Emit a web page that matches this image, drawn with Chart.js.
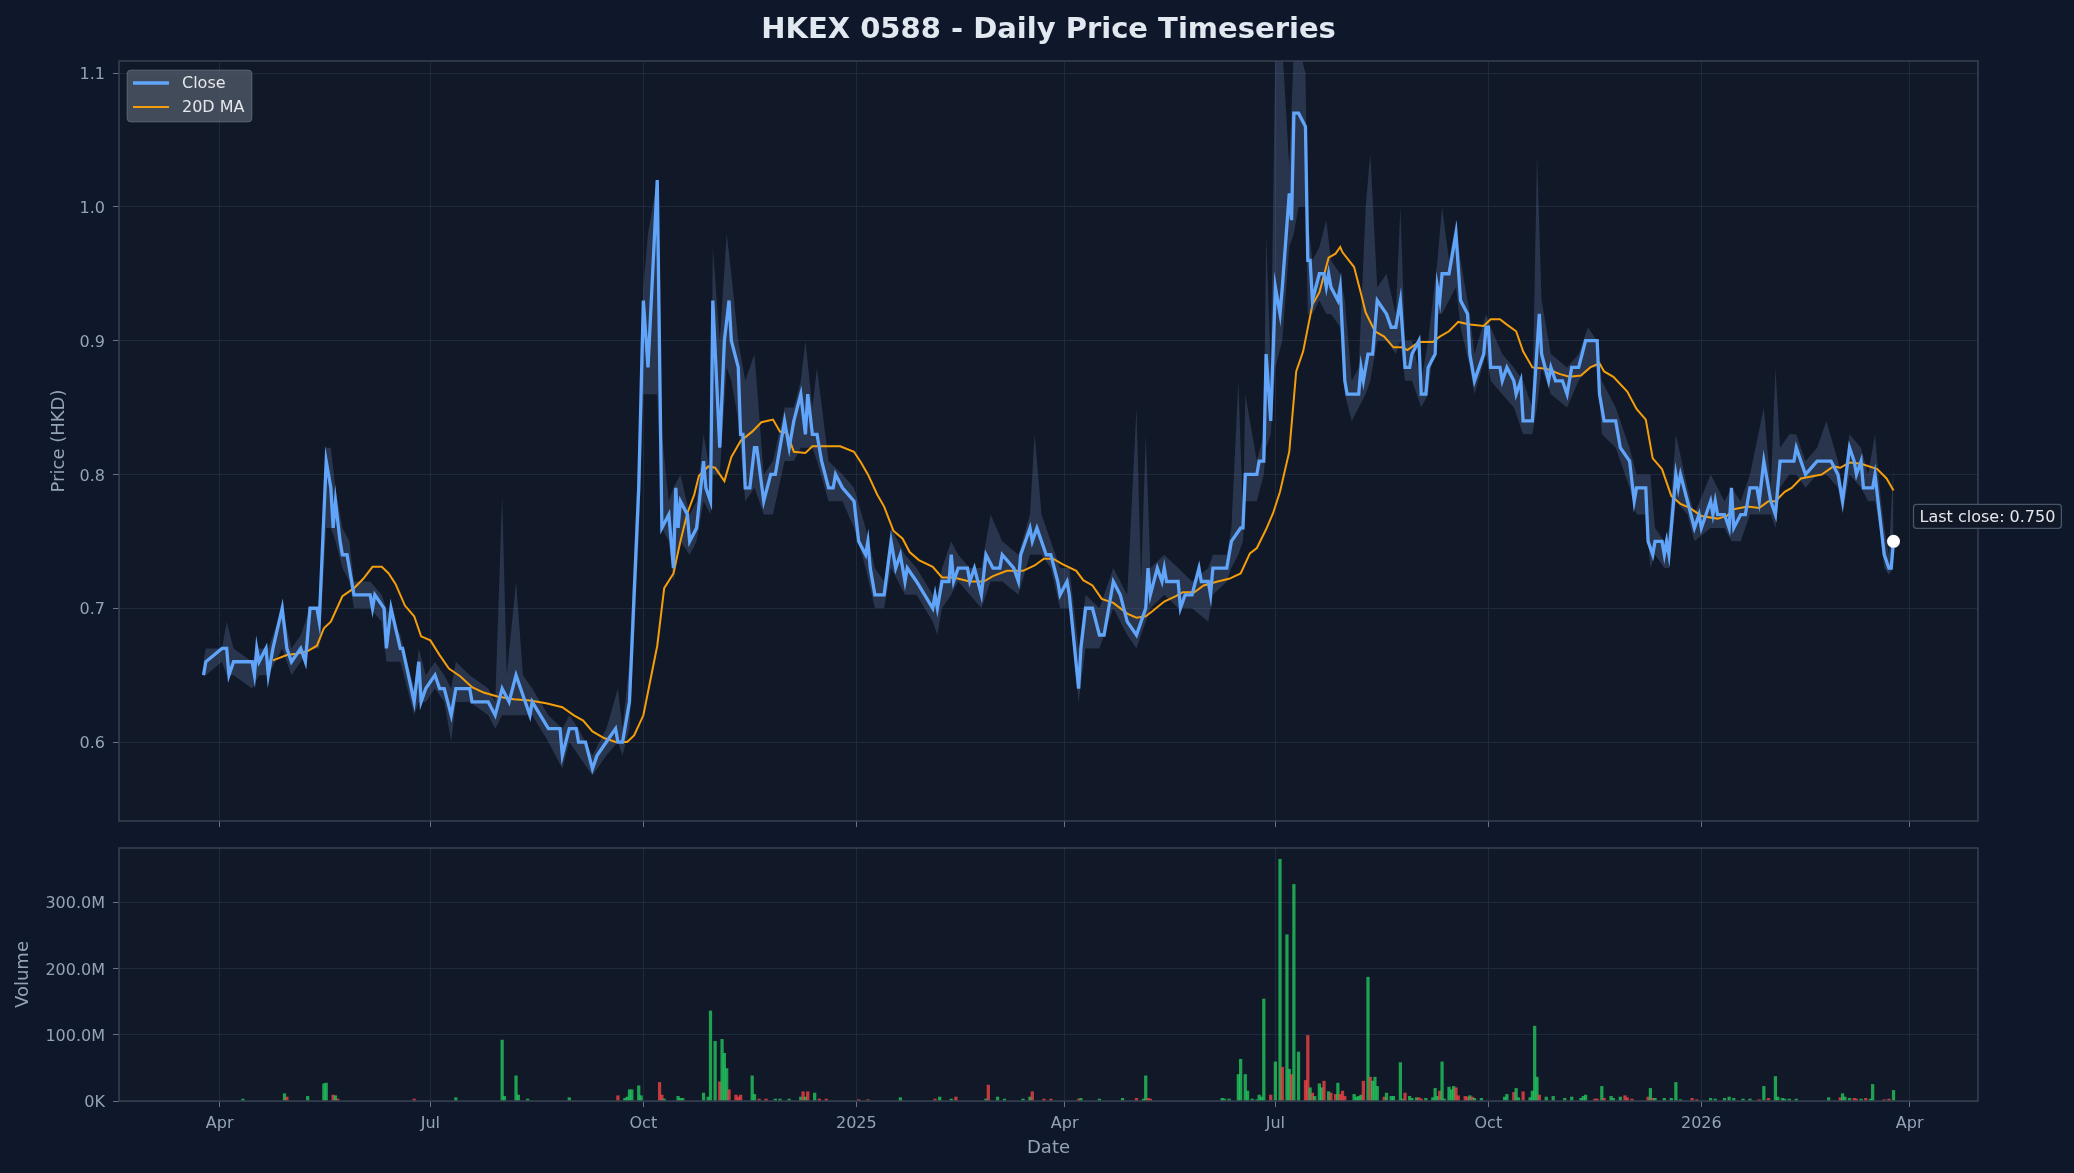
<!DOCTYPE html>
<html>
<head>
<meta charset="utf-8">
<title>HKEX 0588 - Daily Price Timeseries</title>
<script src="https://cdn.jsdelivr.net/npm/chart.js@4.4.1/dist/chart.umd.min.js"></script>
<style>
  html, body { margin: 0; padding: 0; background: #0f172a; }
  #wrap { position: relative; width: 2074px; height: 1173px; overflow: hidden; }
  canvas { position: absolute; left: 0; }
  #priceChart { top: 0; }
  #volumeChart { top: 835px; }
</style>
</head>
<body>
<div id="wrap">
  <canvas id="priceChart" width="2074" height="840"></canvas>
  <canvas id="volumeChart" width="2074" height="338"></canvas>
</div>
<script>
const chartTitle = 'HKEX 0588 - Daily Price Timeseries';

// Closing price (HKD)
const closeDates = [
  '2024-03-25','2024-03-26','2024-04-02','2024-04-04','2024-04-05','2024-04-07','2024-04-15','2024-04-16','2024-04-17','2024-04-18',
  '2024-04-21','2024-04-22','2024-04-24','2024-04-28','2024-04-30','2024-05-02','2024-05-06','2024-05-08','2024-05-10','2024-05-13',
  '2024-05-14','2024-05-17','2024-05-19','2024-05-20','2024-05-21','2024-05-23','2024-05-24','2024-05-26','2024-05-28','2024-05-29',
  '2024-06-05','2024-06-06','2024-06-07','2024-06-11','2024-06-12','2024-06-14','2024-06-18','2024-06-19','2024-06-24','2024-06-26',
  '2024-06-27','2024-06-29','2024-07-03','2024-07-05','2024-07-07','2024-07-10','2024-07-12','2024-07-18','2024-07-19','2024-07-26',
  '2024-07-29','2024-08-01','2024-08-04','2024-08-07','2024-08-11','2024-08-13','2024-08-14','2024-08-21','2024-08-26','2024-08-27',
  '2024-08-30','2024-09-02','2024-09-03','2024-09-06','2024-09-09','2024-09-11','2024-09-15','2024-09-19','2024-09-20','2024-09-22',
  '2024-09-25','2024-09-29','2024-10-01','2024-10-03','2024-10-07','2024-10-09','2024-10-12','2024-10-14','2024-10-15','2024-10-16',
  '2024-10-17','2024-10-20','2024-10-21','2024-10-24','2024-10-27','2024-10-28','2024-10-30','2024-10-31','2024-11-03','2024-11-05',
  '2024-11-07','2024-11-08','2024-11-11','2024-11-12','2024-11-13','2024-11-14','2024-11-16','2024-11-18','2024-11-19','2024-11-22',
  '2024-11-25','2024-11-27','2024-12-01','2024-12-03','2024-12-05','2024-12-08','2024-12-10','2024-12-11','2024-12-13','2024-12-15',
  '2024-12-17','2024-12-20','2024-12-22','2024-12-23','2024-12-26','2024-12-31','2025-01-02','2025-01-05','2025-01-06','2025-01-07',
  '2025-01-09','2025-01-13','2025-01-16','2025-01-18','2025-01-20','2025-01-22','2025-01-23','2025-01-27','2025-02-03','2025-02-04',
  '2025-02-05','2025-02-07','2025-02-10','2025-02-11','2025-02-12','2025-02-14','2025-02-18','2025-02-19','2025-02-21','2025-02-24',
  '2025-02-26','2025-03-01','2025-03-04','2025-03-05','2025-03-10','2025-03-12','2025-03-13','2025-03-17','2025-03-18','2025-03-20',
  '2025-03-24','2025-03-26','2025-03-29','2025-03-30','2025-04-02','2025-04-03','2025-04-07','2025-04-08','2025-04-10','2025-04-13',
  '2025-04-16','2025-04-18','2025-04-22','2025-04-25','2025-04-28','2025-05-02','2025-05-06','2025-05-07','2025-05-08','2025-05-11',
  '2025-05-13','2025-05-14','2025-05-15','2025-05-20','2025-05-21','2025-05-23','2025-05-26','2025-05-29','2025-05-30','2025-06-02',
  '2025-06-03','2025-06-04','2025-06-10','2025-06-11','2025-06-12','2025-06-16','2025-06-17','2025-06-18','2025-06-23','2025-06-24',
  '2025-06-26','2025-06-27','2025-06-29','2025-07-01','2025-07-03','2025-07-04','2025-07-07','2025-07-08','2025-07-09','2025-07-11',
  '2025-07-14','2025-07-15','2025-07-16','2025-07-17','2025-07-20','2025-07-22','2025-07-23','2025-07-24','2025-07-25','2025-07-28',
  '2025-07-29','2025-07-31','2025-08-01','2025-08-06','2025-08-07','2025-08-08','2025-08-10','2025-08-12','2025-08-14','2025-08-18',
  '2025-08-20','2025-08-22','2025-08-24','2025-08-26','2025-08-28','2025-08-29','2025-09-01','2025-09-02','2025-09-04','2025-09-05',
  '2025-09-08','2025-09-09','2025-09-10','2025-09-11','2025-09-14','2025-09-17','2025-09-19','2025-09-22','2025-09-23','2025-09-25',
  '2025-09-27','2025-09-29','2025-09-30','2025-10-01','2025-10-02','2025-10-06','2025-10-07','2025-10-09','2025-10-12','2025-10-13',
  '2025-10-15','2025-10-16','2025-10-20','2025-10-23','2025-10-24','2025-10-27','2025-10-28','2025-10-30','2025-11-02','2025-11-04',
  '2025-11-06','2025-11-09','2025-11-12','2025-11-17','2025-11-18','2025-11-19','2025-11-20','2025-11-25','2025-11-27','2025-12-01',
  '2025-12-03','2025-12-04','2025-12-08','2025-12-09','2025-12-11','2025-12-12','2025-12-15','2025-12-16','2025-12-17','2025-12-18',
  '2025-12-21','2025-12-22','2025-12-23','2025-12-26','2025-12-29','2025-12-31','2026-01-01','2026-01-05','2026-01-06','2026-01-07',
  '2026-01-08','2026-01-11','2026-01-13','2026-01-14','2026-01-15','2026-01-18','2026-01-20','2026-01-22','2026-01-25','2026-01-26',
  '2026-01-28','2026-01-31','2026-02-02','2026-02-04','2026-02-10','2026-02-11','2026-02-15','2026-02-20','2026-02-26','2026-03-01',
  '2026-03-03','2026-03-06','2026-03-08','2026-03-09','2026-03-11','2026-03-12','2026-03-16','2026-03-17','2026-03-19','2026-03-21',
  '2026-03-23','2026-03-24','2026-03-25'
];
const closeValues = [
  0.65,0.66,0.67,0.67,0.65,0.66,0.66,0.65,0.67,0.66,
  0.67,0.65,0.67,0.70,0.67,0.66,0.67,0.66,0.70,0.70,
  0.69,0.81,0.79,0.76,0.78,0.75,0.74,0.74,0.72,0.71,
  0.71,0.70,0.71,0.70,0.67,0.70,0.67,0.67,0.63,0.66,
  0.63,0.64,0.65,0.64,0.64,0.62,0.64,0.64,0.63,0.63,
  0.62,0.64,0.63,0.65,0.63,0.62,0.63,0.61,0.61,0.59,
  0.61,0.61,0.60,0.60,0.58,0.59,0.60,0.61,0.60,0.60,
  0.63,0.79,0.93,0.88,1.02,0.76,0.77,0.73,0.79,0.76,
  0.78,0.77,0.75,0.76,0.81,0.79,0.78,0.93,0.82,0.90,
  0.93,0.90,0.88,0.83,0.83,0.79,0.79,0.82,0.82,0.78,
  0.80,0.80,0.84,0.82,0.84,0.86,0.83,0.86,0.83,0.83,
  0.81,0.79,0.79,0.80,0.79,0.78,0.75,0.74,0.75,0.73,
  0.71,0.71,0.75,0.73,0.74,0.72,0.73,0.72,0.70,0.71,
  0.70,0.72,0.72,0.74,0.72,0.73,0.73,0.72,0.73,0.71,
  0.74,0.73,0.73,0.74,0.73,0.72,0.74,0.76,0.75,0.76,
  0.74,0.74,0.72,0.71,0.72,0.71,0.64,0.67,0.70,0.70,
  0.68,0.68,0.72,0.71,0.69,0.68,0.70,0.73,0.71,0.73,
  0.72,0.73,0.72,0.72,0.70,0.71,0.71,0.73,0.72,0.72,
  0.71,0.73,0.73,0.74,0.75,0.76,0.76,0.80,0.80,0.81,
  0.81,0.89,0.84,0.94,0.92,0.94,1.01,0.99,1.07,1.07,
  1.06,0.96,0.96,0.93,0.95,0.95,0.94,0.95,0.94,0.93,
  0.94,0.87,0.86,0.86,0.88,0.87,0.89,0.89,0.93,0.92,
  0.91,0.91,0.93,0.88,0.88,0.89,0.90,0.86,0.86,0.88,
  0.89,0.94,0.93,0.95,0.95,0.98,0.93,0.92,0.89,0.87,
  0.88,0.89,0.91,0.91,0.88,0.88,0.87,0.88,0.87,0.86,
  0.87,0.84,0.84,0.92,0.89,0.87,0.88,0.87,0.87,0.86,
  0.88,0.88,0.90,0.90,0.86,0.85,0.84,0.84,0.82,0.81,
  0.78,0.79,0.79,0.75,0.74,0.75,0.75,0.74,0.75,0.74,
  0.80,0.79,0.80,0.78,0.76,0.77,0.76,0.78,0.77,0.78,
  0.77,0.77,0.76,0.79,0.76,0.77,0.77,0.79,0.79,0.78,
  0.81,0.78,0.77,0.81,0.81,0.82,0.80,0.81,0.81,0.80,
  0.78,0.82,0.81,0.80,0.81,0.79,0.79,0.80,0.77,0.74,
  0.73,0.73,0.75
];

// 20-day moving average
const maDates = [
  '2024-04-24','2024-04-30','2024-05-04','2024-05-09','2024-05-13','2024-05-16','2024-05-19','2024-05-24','2024-05-29','2024-06-02',
  '2024-06-06','2024-06-10','2024-06-13','2024-06-16','2024-06-20','2024-06-24','2024-06-27','2024-07-01','2024-07-05','2024-07-09',
  '2024-07-14','2024-07-19','2024-07-24','2024-07-30','2024-08-06','2024-08-13','2024-08-20','2024-08-27','2024-09-01','2024-09-05',
  '2024-09-09','2024-09-14','2024-09-19','2024-09-24','2024-09-27','2024-10-01','2024-10-04','2024-10-07','2024-10-10','2024-10-14',
  '2024-10-17','2024-10-20','2024-10-23','2024-10-25','2024-10-29','2024-11-01','2024-11-05','2024-11-08','2024-11-12','2024-11-17',
  '2024-11-21','2024-11-26','2024-11-29','2024-12-02','2024-12-05','2024-12-10','2024-12-13','2024-12-25','2024-12-31','2025-01-03',
  '2025-01-06','2025-01-10','2025-01-13','2025-01-17','2025-01-21','2025-01-24','2025-01-28','2025-02-03','2025-02-07','2025-02-12',
  '2025-02-19','2025-02-25','2025-03-01','2025-03-07','2025-03-14','2025-03-19','2025-03-23','2025-03-27','2025-03-31','2025-04-06',
  '2025-04-09','2025-04-13','2025-04-17','2025-04-22','2025-04-28','2025-05-02','2025-05-06','2025-05-09','2025-05-14','2025-05-19',
  '2025-05-22','2025-05-27','2025-05-31','2025-06-06','2025-06-11','2025-06-16','2025-06-20','2025-06-23','2025-06-27','2025-06-30',
  '2025-07-03','2025-07-07','2025-07-10','2025-07-13','2025-07-17','2025-07-20','2025-07-24','2025-07-27','2025-07-29','2025-07-30',
  '2025-08-04','2025-08-07','2025-08-09','2025-08-13','2025-08-17','2025-08-21','2025-08-25','2025-08-27','2025-09-01','2025-09-07',
  '2025-09-10','2025-09-14','2025-09-18','2025-09-23','2025-09-29','2025-10-02','2025-10-06','2025-10-09','2025-10-13','2025-10-16',
  '2025-10-20','2025-10-26','2025-11-01','2025-11-05','2025-11-10','2025-11-14','2025-11-18','2025-11-20','2025-11-24','2025-11-30',
  '2025-12-04','2025-12-08','2025-12-11','2025-12-15','2025-12-19','2025-12-23','2025-12-27','2026-01-01','2026-01-08','2026-01-12',
  '2026-01-15','2026-01-21','2026-01-26','2026-01-30','2026-02-02','2026-02-06','2026-02-09','2026-02-13','2026-02-22','2026-02-27',
  '2026-03-02','2026-03-06','2026-03-11','2026-03-18','2026-03-22','2026-03-25'
];
const maValues = [
  0.661,0.665,0.666,0.668,0.672,0.685,0.690,0.709,0.715,0.722,
  0.731,0.731,0.726,0.718,0.702,0.694,0.679,0.676,0.665,0.655,
  0.649,0.641,0.637,0.634,0.632,0.631,0.629,0.626,0.620,0.616,
  0.608,0.603,0.600,0.600,0.605,0.620,0.646,0.672,0.715,0.726,
  0.750,0.771,0.785,0.799,0.806,0.805,0.795,0.813,0.825,0.832,
  0.839,0.841,0.832,0.831,0.817,0.816,0.821,0.821,0.817,0.809,
  0.800,0.785,0.776,0.758,0.752,0.742,0.736,0.731,0.723,0.723,
  0.720,0.720,0.724,0.728,0.728,0.732,0.737,0.737,0.733,0.728,
  0.721,0.717,0.707,0.704,0.696,0.693,0.694,0.698,0.705,0.709,
  0.712,0.712,0.717,0.720,0.722,0.726,0.741,0.745,0.759,0.771,
  0.787,0.817,0.877,0.892,0.927,0.936,0.962,0.965,0.970,0.966,
  0.955,0.935,0.921,0.907,0.903,0.895,0.895,0.893,0.899,0.899,
  0.903,0.907,0.914,0.912,0.911,0.916,0.916,0.912,0.907,0.892,
  0.880,0.879,0.875,0.873,0.874,0.880,0.883,0.877,0.873,0.862,
  0.849,0.841,0.812,0.804,0.784,0.778,0.775,0.769,0.767,0.769,
  0.774,0.776,0.775,0.780,0.780,0.787,0.790,0.797,0.800,0.806,
  0.805,0.809,0.808,0.804,0.797,0.788
];

// Daily low / high range (shaded band)
const bandDates = [
  '2024-03-25','2024-03-26','2024-04-02','2024-04-04','2024-04-07','2024-04-15','2024-04-18','2024-04-22','2024-04-28','2024-05-02',
  '2024-05-06','2024-05-10','2024-05-14','2024-05-17','2024-05-19','2024-05-21','2024-05-24','2024-05-27','2024-05-29','2024-06-05',
  '2024-06-10','2024-06-12','2024-06-18','2024-06-24','2024-06-26','2024-06-29','2024-07-03','2024-07-07','2024-07-10','2024-07-12',
  '2024-07-18','2024-07-26','2024-07-29','2024-08-01','2024-08-03','2024-08-07','2024-08-10','2024-08-14','2024-08-21','2024-08-27',
  '2024-08-30','2024-09-03','2024-09-09','2024-09-15','2024-09-20','2024-09-22','2024-09-25','2024-09-29','2024-10-01','2024-10-03',
  '2024-10-07','2024-10-09','2024-10-12','2024-10-14','2024-10-17','2024-10-21','2024-10-24','2024-10-27','2024-10-30','2024-10-31',
  '2024-11-03','2024-11-06','2024-11-08','2024-11-11','2024-11-14','2024-11-18','2024-11-22','2024-11-26','2024-12-01','2024-12-05',
  '2024-12-08','2024-12-10','2024-12-13','2024-12-15','2024-12-20','2024-12-26','2024-12-31','2025-01-05','2025-01-09','2025-01-13',
  '2025-01-16','2025-01-22','2025-01-27','2025-02-03','2025-02-05','2025-02-07','2025-02-11','2025-02-14','2025-02-19','2025-02-24',
  '2025-02-28','2025-03-05','2025-03-12','2025-03-17','2025-03-19','2025-03-22','2025-03-26','2025-03-30','2025-04-03','2025-04-07',
  '2025-04-10','2025-04-16','2025-04-22','2025-04-28','2025-05-02','2025-05-04','2025-05-06','2025-05-08','2025-05-14','2025-05-20',
  '2025-05-26','2025-06-02','2025-06-04','2025-06-10','2025-06-12','2025-06-15','2025-06-17','2025-06-18','2025-06-23','2025-06-26',
  '2025-06-27','2025-06-29','2025-07-01','2025-07-04','2025-07-07','2025-07-09','2025-07-11','2025-07-14','2025-07-15','2025-07-17',
  '2025-07-20','2025-07-23','2025-07-25','2025-07-29','2025-07-31','2025-08-03','2025-08-06','2025-08-09','2025-08-11','2025-08-14',
  '2025-08-18','2025-08-22','2025-08-24','2025-08-26','2025-08-29','2025-09-02','2025-09-05','2025-09-09','2025-09-11','2025-09-14',
  '2025-09-17','2025-09-19','2025-09-23','2025-09-25','2025-09-30','2025-10-02','2025-10-07','2025-10-12','2025-10-16','2025-10-20',
  '2025-10-22','2025-10-24','2025-10-28','2025-11-04','2025-11-09','2025-11-13','2025-11-17','2025-11-19','2025-11-25','2025-12-01',
  '2025-12-04','2025-12-08','2025-12-10','2025-12-12','2025-12-16','2025-12-18','2025-12-21','2025-12-26','2025-12-29','2026-01-05',
  '2026-01-11','2026-01-14','2026-01-18','2026-01-22','2026-01-28','2026-01-31','2026-02-02','2026-02-04','2026-02-08','2026-02-11',
  '2026-02-15','2026-02-20','2026-02-24','2026-03-01','2026-03-03','2026-03-06','2026-03-11','2026-03-14','2026-03-17','2026-03-19',
  '2026-03-21','2026-03-23','2026-03-25'
];
const bandLow = [
  0.65,0.65,0.66,0.65,0.65,0.64,0.65,0.65,0.67,0.65,
  0.66,0.67,0.67,0.76,0.76,0.75,0.73,0.72,0.70,0.70,
  0.69,0.66,0.66,0.62,0.63,0.63,0.64,0.63,0.60,0.63,
  0.63,0.62,0.61,0.62,0.62,0.62,0.62,0.62,0.60,0.58,
  0.60,0.59,0.575,0.59,0.60,0.59,0.61,0.75,0.86,0.86,
  0.86,0.76,0.75,0.72,0.75,0.74,0.75,0.78,0.77,0.80,
  0.80,0.88,0.87,0.84,0.78,0.79,0.77,0.77,0.81,0.81,
  0.82,0.82,0.82,0.81,0.78,0.78,0.76,0.73,0.70,0.70,
  0.73,0.71,0.71,0.69,0.68,0.70,0.71,0.72,0.71,0.70,
  0.72,0.72,0.71,0.74,0.74,0.74,0.73,0.70,0.70,0.63,
  0.67,0.67,0.70,0.68,0.67,0.68,0.69,0.70,0.71,0.70,
  0.70,0.69,0.71,0.72,0.73,0.74,0.75,0.78,0.78,0.80,
  0.82,0.83,0.88,0.90,0.97,0.98,1.00,1.00,0.92,0.92,
  0.93,0.92,0.92,0.91,0.86,0.84,0.85,0.86,0.87,0.90,
  0.90,0.89,0.90,0.87,0.87,0.85,0.86,0.92,0.92,0.93,
  0.94,0.91,0.88,0.86,0.89,0.87,0.86,0.85,0.83,0.83,
  0.85,0.88,0.86,0.85,0.87,0.88,0.88,0.83,0.82,0.79,
  0.77,0.77,0.73,0.74,0.73,0.73,0.78,0.77,0.75,0.76,
  0.76,0.75,0.75,0.77,0.77,0.77,0.76,0.79,0.80,0.80,
  0.79,0.80,0.80,0.79,0.77,0.80,0.79,0.78,0.78,0.76,
  0.73,0.725,0.73
];
const bandHigh = [
  0.66,0.67,0.67,0.69,0.67,0.66,0.67,0.67,0.70,0.67,
  0.68,0.70,0.70,0.82,0.82,0.79,0.76,0.75,0.72,0.72,
  0.71,0.70,0.68,0.64,0.67,0.65,0.66,0.65,0.64,0.66,
  0.65,0.64,0.63,0.785,0.65,0.72,0.65,0.64,0.62,0.61,
  0.62,0.61,0.59,0.61,0.64,0.61,0.66,0.82,0.94,0.98,
  1.02,0.83,0.78,0.79,0.80,0.77,0.78,0.83,0.80,0.97,
  0.90,0.98,0.95,0.90,0.87,0.89,0.80,0.81,0.85,0.85,
  0.87,0.90,0.85,0.88,0.81,0.80,0.79,0.76,0.73,0.72,
  0.76,0.74,0.73,0.71,0.71,0.73,0.75,0.74,0.73,0.73,
  0.77,0.75,0.74,0.77,0.83,0.77,0.75,0.73,0.73,0.67,
  0.71,0.70,0.73,0.71,0.85,0.72,0.83,0.73,0.74,0.73,
  0.72,0.73,0.74,0.74,0.76,0.87,0.77,0.86,0.81,0.83,
  0.98,0.88,1.12,1.12,1.03,1.12,1.12,1.10,0.99,0.96,
  0.97,0.99,0.96,0.95,0.93,0.87,0.88,1.00,1.04,0.94,
  0.95,0.92,1.00,0.90,0.90,0.87,0.90,0.96,1.00,0.96,
  0.99,0.96,0.92,0.89,0.92,0.91,0.89,0.88,0.87,0.85,
  1.04,0.93,0.89,0.88,0.89,0.91,0.90,0.87,0.85,0.82,
  0.80,0.80,0.80,0.76,0.75,0.76,0.83,0.79,0.77,0.80,
  0.78,0.79,0.78,0.80,0.85,0.79,0.88,0.82,0.83,0.83,
  0.81,0.82,0.84,0.81,0.79,0.83,0.82,0.80,0.83,0.79,
  0.76,0.74,0.81
];

// Daily volume (millions of shares); 1 = up day, 0 = down day
const volumeDates = [
  '2024-04-11','2024-04-29','2024-04-30','2024-05-09','2024-05-16','2024-05-17','2024-05-20','2024-05-21','2024-05-22','2024-06-24',
  '2024-07-12','2024-08-01','2024-08-02','2024-08-07','2024-08-08','2024-08-12','2024-08-30','2024-09-20','2024-09-23','2024-09-24',
  '2024-09-25','2024-09-26','2024-09-29','2024-09-30','2024-10-08','2024-10-09','2024-10-10','2024-10-16','2024-10-17','2024-10-18',
  '2024-10-27','2024-10-29','2024-10-30','2024-11-01','2024-11-03','2024-11-04','2024-11-05','2024-11-06','2024-11-07','2024-11-10',
  '2024-11-11','2024-11-12','2024-11-17','2024-11-18','2024-11-20','2024-11-23','2024-11-27','2024-11-29','2024-12-03','2024-12-08',
  '2024-12-09','2024-12-10','2024-12-11','2024-12-14','2024-12-16','2024-12-19','2025-01-02','2025-01-06','2025-01-20','2025-02-04',
  '2025-02-06','2025-02-11','2025-02-13','2025-02-26','2025-02-27','2025-03-03','2025-03-06','2025-03-14','2025-03-17','2025-03-18',
  '2025-03-23','2025-03-26','2025-04-07','2025-04-08','2025-04-16','2025-04-26','2025-05-02','2025-05-05','2025-05-06','2025-05-07',
  '2025-05-08','2025-06-08','2025-06-09','2025-06-11','2025-06-15','2025-06-16','2025-06-18','2025-06-19','2025-06-21','2025-06-23',
  '2025-06-24','2025-06-25','2025-06-26','2025-06-29','2025-07-01','2025-07-03','2025-07-04','2025-07-06','2025-07-07','2025-07-08',
  '2025-07-09','2025-07-11','2025-07-14','2025-07-15','2025-07-16','2025-07-17','2025-07-18','2025-07-20','2025-07-21','2025-07-22',
  '2025-07-24','2025-07-25','2025-07-27','2025-07-28','2025-07-29','2025-07-30','2025-07-31','2025-08-04','2025-08-05','2025-08-06',
  '2025-08-07','2025-08-08','2025-08-10','2025-08-11','2025-08-12','2025-08-13','2025-08-14','2025-08-17','2025-08-18','2025-08-20',
  '2025-08-21','2025-08-24','2025-08-25','2025-08-26','2025-08-28','2025-08-29','2025-08-31','2025-09-01','2025-09-02','2025-09-04',
  '2025-09-07','2025-09-08','2025-09-09','2025-09-10','2025-09-11','2025-09-12','2025-09-14','2025-09-15','2025-09-16','2025-09-17',
  '2025-09-18','2025-09-21','2025-09-22','2025-09-23','2025-09-24','2025-09-25','2025-09-28','2025-10-08','2025-10-09','2025-10-12',
  '2025-10-13','2025-10-14','2025-10-16','2025-10-19','2025-10-20','2025-10-21','2025-10-22','2025-10-23','2025-10-26','2025-10-29',
  '2025-11-03','2025-11-06','2025-11-10','2025-11-11','2025-11-12','2025-11-16','2025-11-17','2025-11-19','2025-11-20','2025-11-23',
  '2025-11-24','2025-11-27','2025-11-29','2025-11-30','2025-12-02','2025-12-09','2025-12-10','2025-12-11','2025-12-12','2025-12-16',
  '2025-12-19','2025-12-21','2025-12-23','2025-12-28','2025-12-30','2026-01-05','2026-01-07','2026-01-11','2026-01-13','2026-01-15',
  '2026-01-19','2026-01-22','2026-01-26','2026-01-28','2026-01-30','2026-02-02','2026-02-03','2026-02-05','2026-02-06','2026-02-08',
  '2026-02-11','2026-02-25','2026-03-02','2026-03-03','2026-03-04','2026-03-06','2026-03-08','2026-03-09','2026-03-11','2026-03-13',
  '2026-03-15','2026-03-16','2026-03-21','2026-03-23','2026-03-25'
];
const volumeMillions = [
  3,11,6,7,26,27,9,8,3,3,
  5,92,7,38,9,3,5,8,4,6,
  17,17,23,8,28,9,3,7,4,4,
  12,6,136,90,29,93,72,49,17,9,
  6,9,38,10,3,3,3,3,3,6,
  14,6,14,12,3,3,2,2,5,3,
  6,3,6,3,24,6,3,3,6,14,
  3,3,3,4,3,4,4,3,38,4,
  3,4,3,3,40,63,40,15,3,2,
  9,6,154,9,59,365,51,251,48,40,
  327,74,31,99,20,12,7,26,20,30,
  14,12,10,27,10,15,7,10,6,7,
  9,30,187,36,30,36,22,6,12,7,
  7,58,3,12,7,4,5,5,3,4,
  5,19,7,15,59,3,21,17,22,20,
  8,7,6,8,6,4,4,6,10,13,
  19,5,14,5,15,113,36,9,6,7,
  4,6,4,7,9,3,3,22,4,7,
  4,6,8,5,3,6,19,4,4,4,
  4,28,2,4,2,4,3,4,6,4,
  3,3,2,22,4,37,6,4,3,3,
  3,5,5,11,6,4,4,3,3,4,
  3,25,2,3,16
];
const volumeUp = [
  1,1,0,1,1,1,0,1,0,0,
  1,1,1,1,1,1,1,0,1,1,
  1,1,1,1,0,0,1,1,1,1,
  1,1,1,1,0,1,1,1,0,0,
  0,0,1,1,0,0,1,1,1,1,
  0,1,0,1,0,0,0,0,1,0,
  1,1,0,1,0,1,1,1,1,0,
  0,0,0,1,1,1,0,1,1,0,
  0,1,1,1,1,1,1,1,1,1,
  1,1,1,0,1,1,0,1,1,0,
  1,1,0,0,1,0,1,1,1,0,
  1,0,0,1,0,0,0,1,1,1,
  1,0,1,0,1,1,1,0,1,1,
  1,1,1,0,1,1,1,0,0,1,
  1,1,1,0,1,1,1,1,1,0,
  0,0,0,1,0,1,1,1,1,0,
  1,1,0,1,1,1,1,0,1,1,
  1,1,1,1,1,0,0,1,0,1,
  1,1,0,0,0,0,1,0,1,1,
  1,1,1,0,0,1,1,1,1,1,
  1,1,0,1,0,1,1,1,1,1,
  1,1,0,1,1,1,0,0,1,0,
  1,1,0,0,1
];

// Axis ticks
const tickDates = ['2024-04-01','2024-07-01','2024-10-01','2025-01-01','2025-04-01','2025-07-01','2025-10-01','2026-01-01','2026-04-01'];
const tickLabels = ['Apr','Jul','Oct','2025','Apr','Jul','Oct','2026','Apr'];
const priceTicks = [0.6, 0.7, 0.8, 0.9, 1.0, 1.1];
const volumeTicks = [0, 100, 200, 300];
const priceMin = 0.541, priceMax = 1.109;
const volumeMax = 382;

// ---------------------------------------------------------------

const toDay = s => (Date.parse(s) - Date.parse('2024-04-01')) / 86400000;
const points = (dates, values) => dates.map((d, i) => ({ x: toDay(d), y: values[i] }));

const firstDay = toDay(closeDates[0]);
const lastDay = toDay(closeDates[closeDates.length - 1]);
const xPad = (lastDay - firstDay) * 0.05;
const xMin = firstDay - xPad, xMax = lastDay + xPad;
const lastClose = closeValues[closeValues.length - 1];

Chart.defaults.font.family = '"DejaVu Sans", sans-serif';
Chart.defaults.font.size = 16;
Chart.defaults.color = '#94a3b8';

const gridColor = '#1e293b';
const spineColor = '#374151';
const tickMarkColor = '#64748b';
const upColor = 'rgba(34,197,94,0.8)';
const downColor = 'rgba(239,68,68,0.8)';

function monthTicks(scale) {
    scale.ticks = tickDates.map(d => ({ value: toDay(d) }));
}

// fixed axis sizes so both panels line up with the reference
function fixWidth(scale) {
    scale.width = 119;
    scale.paddingTop = 0;
    scale.paddingBottom = 0;
}

const gridOpts = { color: gridColor, tickColor: tickMarkColor, tickLength: 6, lineWidth: 1 };

// axes background and box outline
const frame = {
    id: 'frame',
    beforeDraw(chart) {
        const { ctx, chartArea: a } = chart;
        ctx.save();
        ctx.fillStyle = '#111827';
        ctx.fillRect(a.left, a.top, a.width, a.height);
        ctx.restore();
    },
    afterDraw(chart) {
        const { ctx, chartArea: a } = chart;
        ctx.save();
        ctx.strokeStyle = spineColor;
        ctx.lineWidth = 1.5;
        ctx.strokeRect(a.left, a.top, a.width, a.height);
        ctx.restore();
    }
};

// title, legend box and last close label
const priceOverlay = {
    id: 'priceOverlay',
    afterDraw(chart) {
        const { ctx, chartArea: a } = chart;
        ctx.save();

        ctx.fillStyle = '#e2e8f0';
        ctx.font = 'bold 29px "DejaVu Sans"';
        ctx.textAlign = 'center';
        ctx.textBaseline = 'middle';
        ctx.fillText(chartTitle, (a.left + a.right) / 2, 30);

        const lx = a.left + 8, ly = a.top + 9;
        ctx.beginPath();
        ctx.roundRect(lx, ly, 125, 52, 4);
        ctx.fillStyle = 'rgba(75,85,99,0.85)';
        ctx.fill();
        ctx.strokeStyle = 'rgba(148,163,184,0.35)';
        ctx.lineWidth = 1;
        ctx.stroke();
        ctx.font = '16px "DejaVu Sans"';
        ctx.textAlign = 'left';
        chart.data.datasets.slice(0, 2).forEach((ds, i) => {
            const y = ly + 13 + i * 24;
            ctx.strokeStyle = ds.borderColor;
            ctx.lineWidth = ds.borderWidth;
            ctx.beginPath();
            ctx.moveTo(lx + 6, y);
            ctx.lineTo(lx + 42, y);
            ctx.stroke();
            ctx.fillStyle = '#e5e7eb';
            ctx.fillText(ds.label, lx + 55, y + 1);
        });

        const pt = chart.getDatasetMeta(4).data[0];
        const text = 'Last close: ' + lastClose.toFixed(3);
        const w = ctx.measureText(text).width + 12;
        const bx = pt.x + 20, by = pt.y - 37;
        ctx.beginPath();
        ctx.roundRect(bx, by, w, 24, 3);
        ctx.fillStyle = '#111827';
        ctx.fill();
        ctx.strokeStyle = '#475569';
        ctx.lineWidth = 1.3;
        ctx.stroke();
        ctx.fillStyle = '#e5e7eb';
        ctx.fillText(text, bx + 6, by + 13);
        ctx.restore();
    }
};

new Chart(document.getElementById('priceChart'), {
    type: 'line',
    data: {
        datasets: [
            {
                label: 'Close',
                data: points(closeDates, closeValues),
                borderColor: '#60a5fa',
                borderWidth: 3.3,
                pointRadius: 0,
                order: 1
            },
            {
                label: '20D MA',
                data: points(maDates, maValues),
                borderColor: '#f59e0b',
                borderWidth: 2,
                pointRadius: 0,
                order: 2
            },
            {
                label: 'High',
                data: points(bandDates, bandHigh),
                borderColor: 'transparent',
                borderWidth: 0,
                pointRadius: 0,
                fill: '+1',
                backgroundColor: 'rgba(110,140,190,0.25)',
                order: 3
            },
            {
                label: 'Low',
                data: points(bandDates, bandLow),
                borderColor: 'transparent',
                borderWidth: 0,
                pointRadius: 0,
                fill: false,
                order: 4
            },
            {
                label: 'Last close',
                data: [{ x: lastDay, y: lastClose }],
                showLine: false,
                pointRadius: 6.5,
                backgroundColor: '#ffffff',
                borderColor: '#ffffff',
                borderWidth: 0,
                order: 0
            }
        ]
    },
    options: {
        responsive: false,
        animation: false,
        devicePixelRatio: 1,
        events: [],
        layout: { padding: { top: 61, right: 96, left: 0, bottom: 0 } },
        plugins: { legend: { display: false }, tooltip: { enabled: false } },
        scales: {
            x: {
                type: 'linear',
                min: xMin,
                max: xMax,
                afterBuildTicks: monthTicks,
                afterFit: s => { s.height = 19; },
                ticks: { display: false },
                grid: gridOpts,
                border: { display: false }
            },
            y: {
                min: priceMin,
                max: priceMax,
                afterBuildTicks: s => { s.ticks = priceTicks.map(v => ({ value: v })); },
                afterFit: fixWidth,
                ticks: { padding: 8, labelOffset: 2, callback: v => v.toFixed(1) },
                grid: gridOpts,
                border: { display: false },
                title: { display: true, text: 'Price (HKD)', font: { size: 18 }, padding: { top: 49 } }
            }
        }
    },
    plugins: [frame, priceOverlay]
});

new Chart(document.getElementById('volumeChart'), {
    type: 'bar',
    data: {
        datasets: [{
            label: 'Volume',
            data: points(volumeDates, volumeMillions),
            backgroundColor: volumeUp.map(u => u ? upColor : downColor),
            borderWidth: 0,
            barThickness: 2.6
        }]
    },
    options: {
        responsive: false,
        animation: false,
        devicePixelRatio: 1,
        events: [],
        layout: { padding: { top: 13, right: 96, left: 0, bottom: 0 } },
        plugins: { legend: { display: false }, tooltip: { enabled: false } },
        scales: {
            x: {
                type: 'linear',
                offset: false,
                min: xMin,
                max: xMax,
                afterBuildTicks: monthTicks,
                afterFit: s => { s.height = 72; },
                ticks: { padding: 7, maxRotation: 0, autoSkip: false, callback: (v, i) => tickLabels[i] },
                grid: Object.assign({ offset: false }, gridOpts),
                border: { display: false },
                title: { display: true, text: 'Date', font: { size: 18 }, padding: { top: 0, bottom: 14 } }
            },
            y: {
                min: 0,
                max: volumeMax,
                afterBuildTicks: s => { s.ticks = volumeTicks.map(v => ({ value: v })); },
                afterFit: fixWidth,
                ticks: { padding: 8, labelOffset: 2, callback: v => v === 0 ? '0K' : v.toFixed(1) + 'M' },
                grid: gridOpts,
                border: { display: false },
                title: { display: true, text: 'Volume', font: { size: 18 }, padding: { top: 13 } }
            }
        }
    },
    plugins: [frame]
});
</script>
</body>
</html>
